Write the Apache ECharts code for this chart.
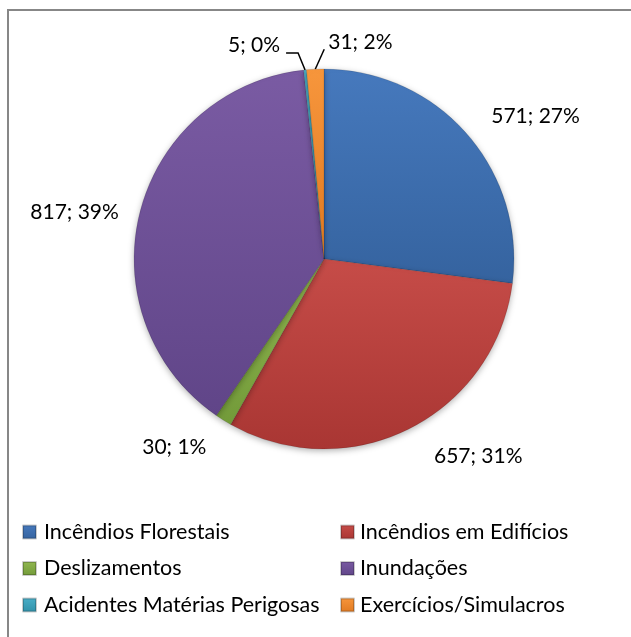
<!DOCTYPE html>
<html>
<head>
<meta charset="utf-8">
<script src="https://cdn.jsdelivr.net/npm/echarts@6.0.0/dist/echarts.min.js"></script>
<style>
  html, body { margin: 0; padding: 0; background: #fff; }
  #chart { width: 631px; height: 637px; }
</style>
</head>
<body>
<div id="chart"></div>
<script>
// categories and values
var categories = [
  "Incêndios Florestais",
  "Incêndios em Edifícios",
  "Deslizamentos",
  "Inundações",
  "Acidentes Matérias Perigosas",
  "Exercícios/Simulacros"
];
var values = [571, 657, 30, 817, 5, 31];
var percentLabels = [27, 31, 1, 39, 0, 2];
var colorsLight = ["#4679bd", "#c64c48", "#92b851", "#7a5ba3", "#4aafc8", "#f7963c"];
var colorsDark = ["#35639f", "#a93633", "#729a39", "#604588", "#3191a9", "#e07a22"];

var legendLeft = [categories[0], categories[2], categories[4]];
var legendRight = [categories[1], categories[3], categories[5]];

var chart = echarts.init(document.getElementById("chart"), null, { renderer: "canvas" });

var FONT = "Lato, 'Open Sans', sans-serif";

// per slice label line settings (big slices: no visible line)
var lineCfg = [
  { show: false, length: 26, length2: 0 },
  { show: false, length: 31, length2: 6 },
  { show: false, length: 32, length2: -5 },
  { show: false, length: 2, length2: 14 },
  { show: true, length: 18, length2: 12 },
  { show: true, length: 20, length2: 0 }
];

function sliceColor(i) {
  return new echarts.graphic.LinearGradient(0, 0, 0, 1, [
    { offset: 0, color: colorsLight[i] },
    { offset: 1, color: colorsDark[i] }
  ]);
}

var pieData = values.map(function (v, i) {
  return {
    name: categories[i],
    value: v,
    itemStyle: { color: sliceColor(i) },
    labelLine: lineCfg[i]
  };
});

var legendText = { fontFamily: FONT, fontSize: 21.5, lineHeight: 24, color: "#000" };

chart.setOption({
  animation: false,
  graphic: [{
    type: "polyline",
    shape: { points: [[8, 637], [8, 10], [631, 10]] },
    style: { stroke: "#878787", lineWidth: 2, fill: null }
  }],
  legend: [{
    data: legendLeft,
    orient: "vertical",
    left: 17,
    top: 515,
    itemWidth: 13,
    itemHeight: 13,
    itemGap: 12.5,
    icon: "rect",
    textStyle: Object.assign({ padding: [0, 0, 0, 3] }, legendText)
  }, {
    data: legendRight,
    orient: "vertical",
    left: 335,
    top: 515,
    itemWidth: 13,
    itemHeight: 13,
    itemGap: 12.5,
    icon: "rect",
    textStyle: Object.assign({ padding: [0, 0, 0, 1] }, legendText)
  }],
  series: [{
    type: "pie",
    center: [324, 259],
    radius: 190,
    startAngle: 90,
    clockwise: true,
    avoidLabelOverlap: false,
    data: pieData,
    itemStyle: {
      borderColor: "rgba(0,0,0,0.2)",
      borderWidth: 0.6,
      shadowBlur: 6,
      shadowColor: "rgba(0,0,0,0.3)",
      shadowOffsetY: 2
    },
    label: {
      show: true,
      position: "outside",
      fontFamily: FONT,
      fontSize: 21,
      color: "#000",
      formatter: function (p) {
        return p.value + "; " + percentLabels[p.dataIndex] + "%";
      }
    },
    labelLine: {
      lineStyle: { color: "#000", width: 1.5 }
    },
    labelLayout: function (p) {
      var pts = p.labelLinePoints;
      if (!pts) return {};
      var p0 = pts[0];
      if (p.dataIndex === 5) {
        // Exercícios/Simulacros: line goes up-right, label to its right
        return {
          x: p0[0] + 13, y: p0[1] - 27, align: "left", verticalAlign: "middle",
          labelLinePoints: [p0, [p0[0] + 9, p0[1] - 20]]
        };
      }
      if (p.dataIndex === 4) {
        var p1 = [p0[0] - 7, p0[1] - 17];
        var p2 = [p1[0] - 12, p1[1]];
        return {
          x: p2[0] - 6, y: p2[1] - 8, align: "right", verticalAlign: "middle",
          labelLinePoints: [p0, p1, p2]
        };
      }
      return {};
    }
  }]
});
</script>
</body>
</html>
